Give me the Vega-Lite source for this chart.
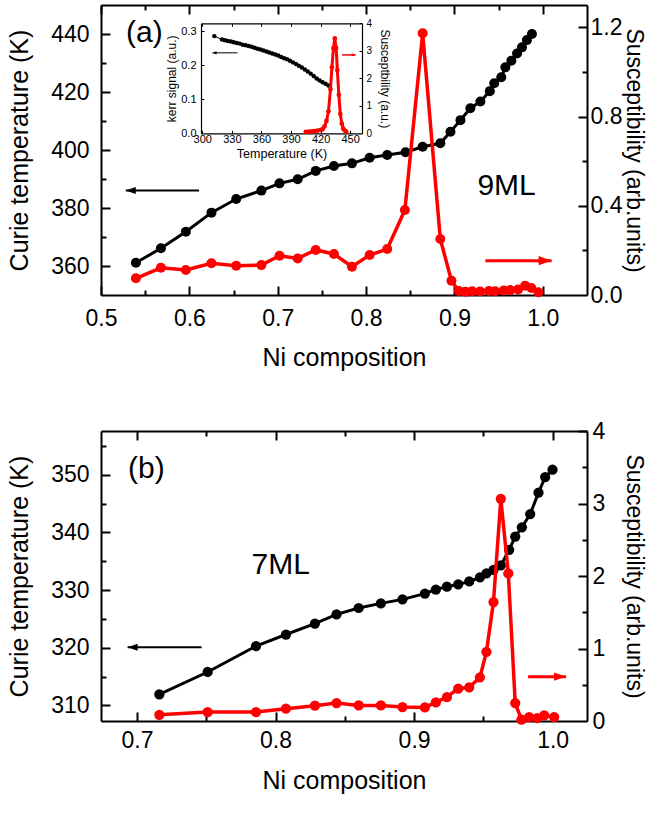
{
"$schema":"https://vega.github.io/schema/vega-lite/v6.json",
"padding":{"left":7,"top":4,"right":4,"bottom":2},
"background":"white",
"config":{"font":"Liberation Sans","view":{"stroke":null},
 "axis":{"grid":false,"domainColor":"black","domainWidth":2,"tickColor":"black","tickWidth":2,"labelColor":"black","titleColor":"black","titleFontWeight":"normal","labelFont":"Liberation Sans","titleFont":"Liberation Sans","labelFlush":false,"labelOverlap":false,"labelFontSize":23,"titleFontSize":25},
 "text":{"font":"Liberation Sans"}},
"datasets":{
 "aT":[{"x":0.5395,"T":361.1},{"x":0.5678,"T":366.1},{"x":0.596,"T":371.8},{"x":0.625,"T":378.4},{"x":0.653,"T":383.1},{"x":0.6815,"T":386.0},{"x":0.702,"T":388.5},{"x":0.7226,"T":389.9},{"x":0.743,"T":392.8},{"x":0.7636,"T":394.5},{"x":0.784,"T":395.4},{"x":0.804,"T":397.3},{"x":0.8239,"T":398.3},{"x":0.8446,"T":399.2},{"x":0.864,"T":401.1},{"x":0.884,"T":402.3},{"x":0.8955,"T":406.3},{"x":0.9068,"T":410.3},{"x":0.918,"T":414.4},{"x":0.9294,"T":416.7},{"x":0.94,"T":420.3},{"x":0.945,"T":423.0},{"x":0.953,"T":425.1},{"x":0.9576,"T":428.5},{"x":0.9644,"T":430.8},{"x":0.9708,"T":433.3},{"x":0.9764,"T":435.4},{"x":0.982,"T":437.9},{"x":0.9877,"T":440.0}],
 "aS":[{"x":0.5395,"S":0.075},{"x":0.5678,"S":0.122},{"x":0.596,"S":0.112},{"x":0.625,"S":0.142},{"x":0.653,"S":0.131},{"x":0.6815,"S":0.134},{"x":0.702,"S":0.176},{"x":0.7226,"S":0.164},{"x":0.743,"S":0.202},{"x":0.7636,"S":0.184},{"x":0.784,"S":0.127},{"x":0.804,"S":0.179},{"x":0.8239,"S":0.206},{"x":0.8439,"S":0.381},{"x":0.864,"S":1.173},{"x":0.884,"S":0.251},{"x":0.8966,"S":0.064},{"x":0.905,"S":0.018},{"x":0.9125,"S":0.015},{"x":0.92,"S":0.017},{"x":0.929,"S":0.016},{"x":0.939,"S":0.018},{"x":0.946,"S":0.017},{"x":0.9557,"S":0.02},{"x":0.963,"S":0.022},{"x":0.972,"S":0.025},{"x":0.98,"S":0.042},{"x":0.987,"S":0.031},{"x":0.995,"S":0.012}],
 "bT":[{"x":0.7161,"T":311.9},{"x":0.751,"T":315.8},{"x":0.7859,"T":320.3},{"x":0.8075,"T":322.3},{"x":0.8284,"T":324.2},{"x":0.844,"T":325.8},{"x":0.86,"T":326.9},{"x":0.876,"T":327.7},{"x":0.8916,"T":328.4},{"x":0.9078,"T":329.4},{"x":0.9157,"T":330.1},{"x":0.9237,"T":330.6},{"x":0.9318,"T":331.0},{"x":0.9398,"T":331.5},{"x":0.9475,"T":332.2},{"x":0.9522,"T":332.9},{"x":0.9573,"T":333.5},{"x":0.9626,"T":334.3},{"x":0.9686,"T":337.0},{"x":0.973,"T":339.3},{"x":0.9778,"T":340.9},{"x":0.9838,"T":343.2},{"x":0.9898,"T":346.9},{"x":0.9946,"T":349.6},{"x":0.9999,"T":350.9}],
 "bS":[{"x":0.7161,"S":0.086},{"x":0.751,"S":0.123},{"x":0.7859,"S":0.123},{"x":0.8075,"S":0.169},{"x":0.8284,"S":0.211},{"x":0.844,"S":0.248},{"x":0.86,"S":0.215},{"x":0.876,"S":0.215},{"x":0.8916,"S":0.193},{"x":0.9078,"S":0.187},{"x":0.9157,"S":0.256},{"x":0.9237,"S":0.331},{"x":0.9318,"S":0.446},{"x":0.9398,"S":0.464},{"x":0.9475,"S":0.602},{"x":0.9522,"S":0.954},{"x":0.9573,"S":1.641},{"x":0.9626,"S":3.064},{"x":0.968,"S":2.035},{"x":0.973,"S":0.248},{"x":0.9775,"S":0.02},{"x":0.983,"S":0.054},{"x":0.9888,"S":0.04},{"x":0.9939,"S":0.076},{"x":1.0011,"S":0.054}],
 "inK":[{"T":312.2,"k":0.285},{"T":320,"k":0.275},{"T":323,"k":0.273},{"T":326,"k":0.271},{"T":329,"k":0.269},{"T":332,"k":0.267},{"T":335,"k":0.265},{"T":338,"k":0.263},{"T":341,"k":0.26},{"T":344,"k":0.258},{"T":347,"k":0.256},{"T":350,"k":0.254},{"T":353,"k":0.251},{"T":356,"k":0.248},{"T":359,"k":0.246},{"T":362,"k":0.243},{"T":365,"k":0.24},{"T":368,"k":0.237},{"T":371,"k":0.234},{"T":374,"k":0.231},{"T":377,"k":0.228},{"T":380,"k":0.224},{"T":383,"k":0.22},{"T":386,"k":0.217},{"T":389,"k":0.213},{"T":392,"k":0.208},{"T":395,"k":0.203},{"T":398,"k":0.198},{"T":401,"k":0.193},{"T":404,"k":0.187},{"T":407,"k":0.181},{"T":410,"k":0.175},{"T":413,"k":0.168},{"T":416,"k":0.161},{"T":419,"k":0.155},{"T":422,"k":0.15},{"T":425,"k":0.145},{"T":428,"k":0.14}],
 "inS":[{"T":405,"S":0.05},{"T":408,"S":0.06},{"T":411,"S":0.07},{"T":414,"S":0.08},{"T":417,"S":0.1},{"T":420,"S":0.12},{"T":422,"S":0.15},{"T":424,"S":0.25},{"T":426,"S":0.45},{"T":428,"S":0.8},{"T":430,"S":1.6},{"T":431.5,"S":2.4},{"T":433,"S":3.1},{"T":434.4,"S":3.45},{"T":435.8,"S":3.1},{"T":437,"S":2.3},{"T":438.5,"S":1.4},{"T":440,"S":0.7},{"T":441.5,"S":0.35},{"T":443,"S":0.17},{"T":444.5,"S":0.1},{"T":446,"S":0.06}],
 "aLab":[{"x":0.549,"T":440.5,"label":"(a)"},{"x":0.959,"T":387.7,"label":"9ML"}],
 "bLab":[{"x":0.7067,"T":351.0,"label":"(b)"},{"x":0.8037,"T":334.3,"label":"7ML"}],
 "aArrK":[{"from":0.611,"to":0.528,"T":386}],
 "aArrS":[{"from":0.935,"to":1.01,"S":0.154}],
 "bArrK":[{"from":0.7466,"to":0.6932,"T":320.1}],
 "bArrS":[{"from":0.9823,"to":1.0097,"S":0.612}],
 "inArrK":[{"from":335.8,"to":310.4,"k":0.236}],
 "inArrS":[{"from":441.8,"to":455.6,"S":2.85}]
},
"spacing":50,
"vconcat":[
{"width":486,"height":290,"resolve":{"scale":{"x":"independent","y":"independent"}},
 "layer":[
  {"data":{"name":"aT"},"mark":{"type":"line","color":"black","strokeWidth":3},
   "encoding":{"x":{"field":"x","type":"quantitative","scale":{"domain":[0.5,1.05]},"axis":{"orient":"bottom","values":[0.5,0.6,0.7,0.8,0.9,1.0],"format":".1f","ticks":false,"labelPadding":12,"title":"Ni composition","titlePadding":15}},
               "y":{"field":"T","type":"quantitative","scale":{"domain":[350,450]},"axis":{"orient":"left","values":[360,380,400,420,440],"format":"d","ticks":false,"labelPadding":12,"title":"Curie temperature (K)","titlePadding":18}}}},
  {"data":{"name":"aT"},"mark":{"type":"circle","color":"black","size":100,"opacity":1},
   "encoding":{"x":{"field":"x","type":"quantitative","scale":{"domain":[0.5,1.05]},"axis":{"orient":"bottom","offset":-9,"values":[0.5,0.6,0.7,0.8,0.9,1.0],"tickSize":9,"labels":false,"domain":false,"title":null}},
               "y":{"field":"T","type":"quantitative","scale":{"domain":[350,450]},"axis":{"orient":"left","offset":-9,"values":[360,380,400,420,440],"tickSize":9,"labels":false,"domain":false,"title":null}}}},
  {"data":{"name":"aS"},"mark":{"type":"line","color":"#ff0000","strokeWidth":3.5},
   "encoding":{"x":{"field":"x","type":"quantitative","scale":{"domain":[0.5,1.05]},"axis":{"orient":"top","ticks":false,"labels":false,"title":null}},
               "y":{"field":"S","type":"quantitative","scale":{"domain":[0,1.3]},"axis":{"orient":"right","values":[0,0.4,0.8,1.2],"format":".1f","ticks":false,"labelPadding":3,"title":"Susceptibility (arb.units)","titleFontSize":23,"titlePadding":0}}}},
  {"data":{"name":"aS"},"mark":{"type":"circle","color":"#ff0000","size":100,"opacity":1},
   "encoding":{"x":{"field":"x","type":"quantitative","scale":{"domain":[0.5,1.05]},"axis":{"orient":"top","offset":-9,"values":[0.5,0.6,0.7,0.8,0.9,1.0],"tickSize":9,"labels":false,"domain":false,"title":null}},
               "y":{"field":"S","type":"quantitative","scale":{"domain":[0,1.3]},"axis":{"orient":"right","offset":-9,"values":[0.4,0.8,1.2],"tickSize":9,"labels":false,"domain":false,"title":null}}}},
  {"data":{"name":"aLab"},"mark":{"type":"text","fontSize":30,"color":"black","align":"center","baseline":"middle"},
   "encoding":{"x":{"field":"x","type":"quantitative","scale":{"domain":[0.5,1.05]},"axis":{"orient":"bottom","offset":-5,"values":[0.55,0.65,0.75,0.85,0.95],"tickSize":5,"labels":false,"title":null,"domain":false}},
               "y":{"field":"T","type":"quantitative","scale":{"domain":[350,450]},"axis":{"orient":"left","offset":-5,"values":[370,390,410,430],"tickSize":5,"labels":false,"title":null,"domain":false}},
               "text":{"field":"label"}}},
  {"data":{"name":"aArrK"},"mark":{"type":"rule","color":"black","strokeWidth":2},
   "encoding":{"x":{"field":"from","type":"quantitative","scale":{"domain":[0.5,1.05]},"axis":{"orient":"top","offset":-5,"values":[0.55,0.65,0.75,0.85,0.95],"tickSize":5,"labels":false,"title":null,"domain":false}},"x2":{"field":"to"},
               "y":{"field":"T","type":"quantitative","scale":{"domain":[350,450]},"axis":null}}},
  {"data":{"name":"aArrK"},"mark":{"type":"point","shape":"M0,0L2,-0.7L2,0.7Z","filled":true,"color":"black","size":100,"opacity":1},
   "encoding":{"x":{"field":"to","type":"quantitative","scale":{"domain":[0.5,1.05]},"axis":null},
               "y":{"field":"T","type":"quantitative","scale":{"domain":[350,450]},"axis":null}}},
  {"data":{"name":"aArrS"},"mark":{"type":"rule","color":"#ff0000","strokeWidth":3},
   "encoding":{"x":{"field":"from","type":"quantitative","scale":{"domain":[0.5,1.05]},"axis":null},"x2":{"field":"to"},
               "y":{"field":"S","type":"quantitative","scale":{"domain":[0,1.3]},"axis":{"orient":"right","offset":-5,"values":[0.2,0.6,1.0],"tickSize":5,"labels":false,"title":null,"domain":false}}}},
  {"data":{"name":"aArrS"},"mark":{"type":"point","shape":"M0,0L-2,-0.7L-2,0.7Z","filled":true,"color":"#ff0000","size":169,"opacity":1},
   "encoding":{"x":{"field":"to","type":"quantitative","scale":{"domain":[0.5,1.05]},"axis":null},
               "y":{"field":"S","type":"quantitative","scale":{"domain":[0,1.3]},"axis":null}}},
  {"data":{"name":"inK"},"mark":{"type":"line","color":"black","strokeWidth":1},
   "encoding":{"x":{"field":"T","type":"quantitative","scale":{"domain":[298.7,462],"range":[100,261]},"axis":{"orient":"bottom","offset":-161.7,"values":[300,330,360,390,420,450],"format":"d","ticks":false,"domainWidth":1.2,"labelPadding":0,"labelFontSize":11,"title":"Temperature (K)","titleFontSize":12.5,"titlePadding":3}},
               "y":{"field":"k","type":"quantitative","scale":{"domain":[0,0.3226],"range":[128.3,18.3]},"axis":{"orient":"left","offset":-100,"values":[0,0.1,0.2,0.3],"format":".1f","ticks":false,"domainWidth":1.2,"labelPadding":5,"labelFontSize":11,"title":"kerr signal (a.u.)","titleFontSize":12,"titlePadding":2}}}},
  {"data":{"name":"inK"},"mark":{"type":"circle","color":"black","size":20,"opacity":1},
   "encoding":{"x":{"field":"T","type":"quantitative","scale":{"domain":[298.7,462],"range":[100,261]},"axis":{"orient":"bottom","offset":-164.7,"values":[300,330,360,390,420,450],"tickSize":3,"tickWidth":1,"labels":false,"domain":false,"title":null}},
               "y":{"field":"k","type":"quantitative","scale":{"domain":[0,0.3226],"range":[128.3,18.3]},"axis":{"orient":"left","offset":-103,"values":[0.1,0.2,0.3],"tickSize":3,"tickWidth":1,"labels":false,"domain":false,"title":null}}}},
  {"data":{"name":"inS"},"mark":{"type":"line","color":"#ff0000","strokeWidth":3},
   "encoding":{"x":{"field":"T","type":"quantitative","scale":{"domain":[298.7,462],"range":[100,261]},"axis":{"orient":"top","offset":-18.3,"ticks":false,"labels":false,"domainWidth":1.2,"title":null}},
               "y":{"field":"S","type":"quantitative","scale":{"domain":[0,4],"range":[128.3,18.3]},"axis":{"orient":"right","offset":-225,"values":[0,1,2,3,4],"format":"d","ticks":false,"domainWidth":1.2,"labelPadding":4,"labelFontSize":10,"title":"Susceptbility (a.u.)","titleFontSize":12,"titlePadding":6}}}},
  {"data":{"name":"inS"},"mark":{"type":"circle","color":"#ff0000","size":22,"opacity":1},
   "encoding":{"x":{"field":"T","type":"quantitative","scale":{"domain":[298.7,462],"range":[100,261]},"axis":{"orient":"top","offset":-21.3,"values":[300,330,360,390,420,450],"tickSize":3,"tickWidth":1,"labels":false,"domain":false,"title":null}},
               "y":{"field":"S","type":"quantitative","scale":{"domain":[0,4],"range":[128.3,18.3]},"axis":{"orient":"right","offset":-228,"values":[1,2,3,4],"tickSize":3,"tickWidth":1,"labels":false,"domain":false,"title":null}}}},
  {"data":{"name":"inArrK"},"mark":{"type":"rule","color":"black","strokeWidth":1},
   "encoding":{"x":{"field":"from","type":"quantitative","scale":{"domain":[298.7,462],"range":[100,261]},"axis":null},"x2":{"field":"to"},
               "y":{"field":"k","type":"quantitative","scale":{"domain":[0,0.3226],"range":[128.3,18.3]},"axis":null}}},
  {"data":{"name":"inArrK"},"mark":{"type":"point","shape":"M0,0L2,-0.8L2,0.8Z","filled":true,"color":"black","size":16,"opacity":1},
   "encoding":{"x":{"field":"to","type":"quantitative","scale":{"domain":[298.7,462],"range":[100,261]},"axis":null},
               "y":{"field":"k","type":"quantitative","scale":{"domain":[0,0.3226],"range":[128.3,18.3]},"axis":null}}},
  {"data":{"name":"inArrS"},"mark":{"type":"rule","color":"#ff0000","strokeWidth":1.5},
   "encoding":{"x":{"field":"from","type":"quantitative","scale":{"domain":[298.7,462],"range":[100,261]},"axis":null},"x2":{"field":"to"},
               "y":{"field":"S","type":"quantitative","scale":{"domain":[0,4],"range":[128.3,18.3]},"axis":null}}},
  {"data":{"name":"inArrS"},"mark":{"type":"point","shape":"M0,0L-2,-0.8L-2,0.8Z","filled":true,"color":"#ff0000","size":16,"opacity":1},
   "encoding":{"x":{"field":"to","type":"quantitative","scale":{"domain":[298.7,462],"range":[100,261]},"axis":null},
               "y":{"field":"S","type":"quantitative","scale":{"domain":[0,4],"range":[128.3,18.3]},"axis":null}}}
 ]},
{"width":486,"height":290,"resolve":{"scale":{"x":"independent","y":"independent"}},
 "layer":[
  {"data":{"name":"bT"},"mark":{"type":"line","color":"black","strokeWidth":3},
   "encoding":{"x":{"field":"x","type":"quantitative","scale":{"domain":[0.674,1.0248]},"axis":{"orient":"bottom","values":[0.7,0.8,0.9,1.0],"format":".1f","ticks":false,"labelPadding":8,"title":"Ni composition","titlePadding":16}},
               "y":{"field":"T","type":"quantitative","scale":{"domain":[307.3,357.6]},"axis":{"orient":"left","values":[310,320,330,340,350],"format":"d","ticks":false,"labelPadding":12,"title":"Curie temperature (K)","titlePadding":18}}}},
  {"data":{"name":"bT"},"mark":{"type":"circle","color":"black","size":105,"opacity":1},
   "encoding":{"x":{"field":"x","type":"quantitative","scale":{"domain":[0.674,1.0248]},"axis":{"orient":"bottom","offset":-9,"values":[0.7,0.8,0.9,1.0],"tickSize":9,"labels":false,"domain":false,"title":null}},
               "y":{"field":"T","type":"quantitative","scale":{"domain":[307.3,357.6]},"axis":{"orient":"left","offset":-9,"values":[310,320,330,340,350],"tickSize":9,"labels":false,"domain":false,"title":null}}}},
  {"data":{"name":"bS"},"mark":{"type":"line","color":"#ff0000","strokeWidth":3.5},
   "encoding":{"x":{"field":"x","type":"quantitative","scale":{"domain":[0.674,1.0248]},"axis":{"orient":"top","ticks":false,"labels":false,"title":null}},
               "y":{"field":"S","type":"quantitative","scale":{"domain":[0,4]},"axis":{"orient":"right","values":[0,1,2,3,4],"format":"d","ticks":false,"labelPadding":5,"title":"Susceptibility (arb.units)","titleFontSize":23,"titlePadding":17}}}},
  {"data":{"name":"bS"},"mark":{"type":"circle","color":"#ff0000","size":105,"opacity":1},
   "encoding":{"x":{"field":"x","type":"quantitative","scale":{"domain":[0.674,1.0248]},"axis":{"orient":"top","offset":-9,"values":[0.7,0.8,0.9,1.0],"tickSize":9,"labels":false,"domain":false,"title":null}},
               "y":{"field":"S","type":"quantitative","scale":{"domain":[0,4]},"axis":{"orient":"right","offset":-9,"values":[1,2,3,4],"tickSize":9,"labels":false,"domain":false,"title":null}}}},
  {"data":{"name":"bLab"},"mark":{"type":"text","fontSize":30,"color":"black","align":"center","baseline":"middle"},
   "encoding":{"x":{"field":"x","type":"quantitative","scale":{"domain":[0.674,1.0248]},"axis":{"orient":"bottom","offset":-5,"values":[0.75,0.85,0.95],"tickSize":5,"labels":false,"title":null,"domain":false}},
               "y":{"field":"T","type":"quantitative","scale":{"domain":[307.3,357.6]},"axis":{"orient":"left","offset":-5,"values":[315,325,335,345,355],"tickSize":5,"labels":false,"title":null,"domain":false}},
               "text":{"field":"label"}}},
  {"data":{"name":"bArrK"},"mark":{"type":"rule","color":"black","strokeWidth":2},
   "encoding":{"x":{"field":"from","type":"quantitative","scale":{"domain":[0.674,1.0248]},"axis":{"orient":"top","offset":-5,"values":[0.75,0.85,0.95],"tickSize":5,"labels":false,"title":null,"domain":false}},"x2":{"field":"to"},
               "y":{"field":"T","type":"quantitative","scale":{"domain":[307.3,357.6]},"axis":null}}},
  {"data":{"name":"bArrK"},"mark":{"type":"point","shape":"M0,0L2,-0.7L2,0.7Z","filled":true,"color":"black","size":100,"opacity":1},
   "encoding":{"x":{"field":"to","type":"quantitative","scale":{"domain":[0.674,1.0248]},"axis":null},
               "y":{"field":"T","type":"quantitative","scale":{"domain":[307.3,357.6]},"axis":null}}},
  {"data":{"name":"bArrS"},"mark":{"type":"rule","color":"#ff0000","strokeWidth":3},
   "encoding":{"x":{"field":"from","type":"quantitative","scale":{"domain":[0.674,1.0248]},"axis":null},"x2":{"field":"to"},
               "y":{"field":"S","type":"quantitative","scale":{"domain":[0,4]},"axis":{"orient":"right","offset":-5,"values":[0.5,1.5,2.5,3.5],"tickSize":5,"labels":false,"title":null,"domain":false}}}},
  {"data":{"name":"bArrS"},"mark":{"type":"point","shape":"M0,0L-2,-0.7L-2,0.7Z","filled":true,"color":"#ff0000","size":144,"opacity":1},
   "encoding":{"x":{"field":"to","type":"quantitative","scale":{"domain":[0.674,1.0248]},"axis":null},
               "y":{"field":"S","type":"quantitative","scale":{"domain":[0,4]},"axis":null}}}
 ]}
]
}
